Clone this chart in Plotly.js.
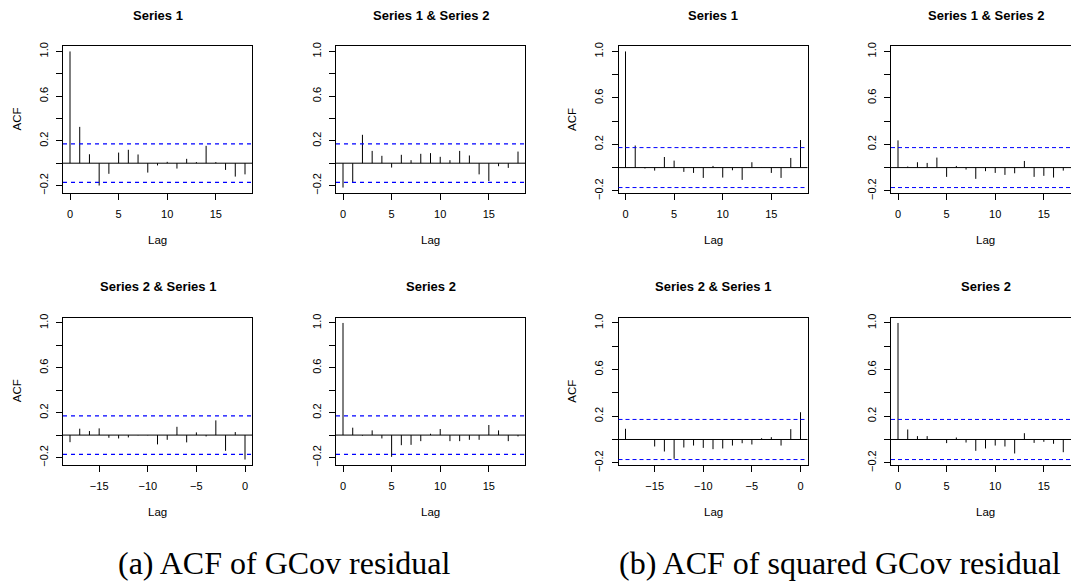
<!DOCTYPE html>
<html><head><meta charset="utf-8">
<script src="https://cdn.plot.ly/plotly-3.0.1.min.js"></script>
<style>html,body{margin:0;padding:0;overflow:hidden;background:#fff}</style>
</head><body><div id="chart" style="width:1082px;height:585px"></div>
<script>
// ---- data ----
const lagsPos = [0,1,2,3,4,5,6,7,8,9,10,11,12,13,14,15,16,17,18];
const lagsNeg = [-18,-17,-16,-15,-14,-13,-12,-11,-10,-9,-8,-7,-6,-5,-4,-3,-2,-1,0];

// (a) ACF of GCov residual
const resS1   = [1.0,0.325,0.08,-0.2,-0.095,0.095,0.12,0.078,-0.084,-0.02,0.012,-0.048,0.039,0.01,0.155,0.01,-0.06,-0.12,-0.10];
const resS1S2 = [-0.218,-0.17,0.254,0.11,0.066,-0.039,0.075,0.027,0.084,0.09,0.057,0.027,0.11,0.069,-0.10,-0.16,-0.027,-0.042,0.104];
const resS2S1 = [-0.063,0.057,0.036,0.06,-0.024,-0.03,-0.021,-0.003,-0.003,-0.083,-0.042,0.074,-0.065,0.024,-0.012,0.131,-0.14,0.027,-0.218];
const resS2   = [1.0,0.066,-0.006,0.042,-0.03,-0.194,-0.09,-0.087,-0.054,0.012,0.054,-0.054,-0.054,-0.042,-0.042,0.09,0.042,-0.054,-0.012];

// (b) ACF of squared GCov residual
const sqS1   = [1.0,0.19,-0.008,-0.026,0.091,0.06,-0.037,-0.046,-0.089,0.014,-0.086,-0.023,-0.106,0.046,-0.003,-0.046,-0.089,0.083,0.237];
const sqS1S2 = [0.234,0.009,0.046,0.04,0.086,-0.08,0.014,-0.017,-0.097,-0.031,-0.046,-0.063,-0.049,0.057,-0.08,-0.071,-0.086,-0.026,-0.03];
const sqS2S1 = [0.092,0.002,0.002,-0.06,-0.103,-0.166,-0.069,-0.052,-0.072,-0.083,-0.077,-0.052,-0.032,-0.043,0.011,0.02,-0.052,0.089,0.234];
const sqS2   = [1.0,0.086,0.029,0.029,-0.003,-0.031,0.017,-0.026,-0.097,-0.077,-0.052,-0.06,-0.12,0.054,-0.029,-0.02,-0.037,-0.109,-0.04];

const ciBound = 0.172;
const panelTitles = ['Series 1','Series 1 & Series 2','Series 2 & Series 1','Series 2'];
const captions = ['(a) ACF of GCov residual','(b) ACF of squared GCov residual'];
const xTicksPos = [0,5,10,15];
const xTicksNeg = [-15,-10,-5,0];
const yTickVals = [-0.2,0,0.2,0.4,0.6,0.8,1.0];
const yTickText = ['\u22120.2','','0.2','','0.6','','1.0'];
const yLabel = 'ACF', xLabel = 'Lag';

// ---- layout geometry (px) ----
const W = 1082, H = 585;
const cols = [[63,252],[336,525],[618.5,807.5],[891,1080]];
const rows = [[46,193],[317.5,465]];
const px = x => x / W, py = y => 1 - y / H;
const SANS = 'Liberation Sans, Arial, Helvetica, sans-serif';
const fmt = v => (v < 0 ? '\u2212' + Math.abs(v) : String(v));

const groups = [
  {series: [resS1, resS1S2, resS2S1, resS2], ciWidth: 1.2, dash: '4px,4px'},
  {series: [sqS1, sqS1S2, sqS2S1, sqS2], ciWidth: 1, dash: '4px,3px'}
];

const traces = [], shapes = [], annotations = [];
const layout = {width: W, height: H, margin: {l:0, r:0, t:0, b:0}, showlegend: false,
  paper_bgcolor: '#fff', plot_bgcolor: '#fff', font: {family: SANS, color: '#000'}};

let n = 0;
groups.forEach((g, gi) => {
  let lo = -ciBound, hi = ciBound;
  g.series.forEach(s => s.forEach(v => { lo = Math.min(lo, v); hi = Math.max(hi, v); }));
  const yr = [lo - 0.04 * (hi - lo), hi + 0.04 * (hi - lo)];
  g.series.forEach((vals, k) => {
    n++;
    const neg = (k === 2);
    const lags = neg ? lagsNeg : lagsPos;
    const r = rows[k < 2 ? 0 : 1];
    const c = cols[2 * gi + (k % 2)];
    const xs = 'x' + (n === 1 ? '' : n), ys = 'y' + (n === 1 ? '' : n);
    const xa = 'xaxis' + (n === 1 ? '' : n), ya = 'yaxis' + (n === 1 ? '' : n);
    const lmin = Math.min(...lags), lmax = Math.max(...lags);
    const xr = [lmin - 0.04 * (lmax - lmin), lmax + 0.04 * (lmax - lmin)];
    const xt = neg ? xTicksNeg : xTicksPos;
    const axCommon = {showline: true, linecolor: '#000', linewidth: 1, mirror: true,
      ticks: 'outside', ticklen: 6, tickwidth: 1, tickcolor: '#000',
      showgrid: false, zeroline: false, fixedrange: true,
      tickfont: {family: SANS, size: 11, color: '#000'}};
    layout[xa] = Object.assign({}, axCommon, {domain: [px(c[0]), px(c[1])], range: xr,
      tickmode: 'array', tickvals: xt, ticktext: xt.map(fmt), anchor: ys, ticklabelstandoff: 5});
    layout[ya] = Object.assign({}, axCommon, {domain: [py(r[1]), py(r[0])], range: yr,
      tickmode: 'array', tickvals: yTickVals, ticktext: yTickText, tickangle: -90, anchor: xs, ticklabelstandoff: 4});
    const sx = [], sy = [];
    lags.forEach((l, i) => { sx.push(l, l, null); sy.push(0, vals[i], null); });
    traces.push({type: 'scatter', mode: 'lines', x: sx, y: sy, xaxis: xs, yaxis: ys,
      line: {color: '#000', width: 1}, hoverinfo: 'skip', connectgaps: false});
    const dref = xs + ' domain';
    shapes.push({type: 'line', xref: dref, yref: ys, x0: 0, x1: 1, y0: 0, y1: 0, line: {color: '#000', width: 1}});
    [ciBound, -ciBound].forEach(cv => shapes.push({type: 'line', xref: dref, yref: ys, x0: 0, x1: 1, y0: cv, y1: cv,
      line: {color: '#0000ff', width: g.ciWidth, dash: g.dash}}));
    const cx = (c[0] + c[1]) / 2;
    annotations.push({xref: 'paper', yref: 'paper', x: px(cx), y: py(r[0] - 31), text: '<b>' + panelTitles[k] + '</b>',
      showarrow: false, xanchor: 'center', yanchor: 'middle', font: {family: SANS, size: 13, color: '#000'}});
    annotations.push({xref: 'paper', yref: 'paper', x: px(cx), y: py(r[1] + 47), text: xLabel,
      showarrow: false, xanchor: 'center', yanchor: 'middle', font: {family: SANS, size: 11.5, color: '#000'}});
    if (k % 2 === 0) {
      annotations.push({xref: 'paper', yref: 'paper', x: px(c[0] - 46), y: py((r[0] + r[1]) / 2), text: yLabel,
        textangle: -90, showarrow: false, xanchor: 'center', yanchor: 'middle', font: {family: SANS, size: 11.5, color: '#000'}});
    }
  });
});

annotations.push({xref: 'paper', yref: 'paper', x: px(284), y: py(563), text: captions[0], showarrow: false,
  xanchor: 'center', yanchor: 'middle', font: {family: 'Liberation Serif, Times New Roman, serif', size: 32, color: '#000'}});
annotations.push({xref: 'paper', yref: 'paper', x: px(840), y: py(563), text: captions[1], showarrow: false,
  xanchor: 'center', yanchor: 'middle', font: {family: 'Liberation Serif, Times New Roman, serif', size: 32, color: '#000'}});

layout.shapes = shapes;
layout.annotations = annotations;
Plotly.newPlot('chart', traces, layout, {displayModeBar: false, staticPlot: true});
</script></body></html>
